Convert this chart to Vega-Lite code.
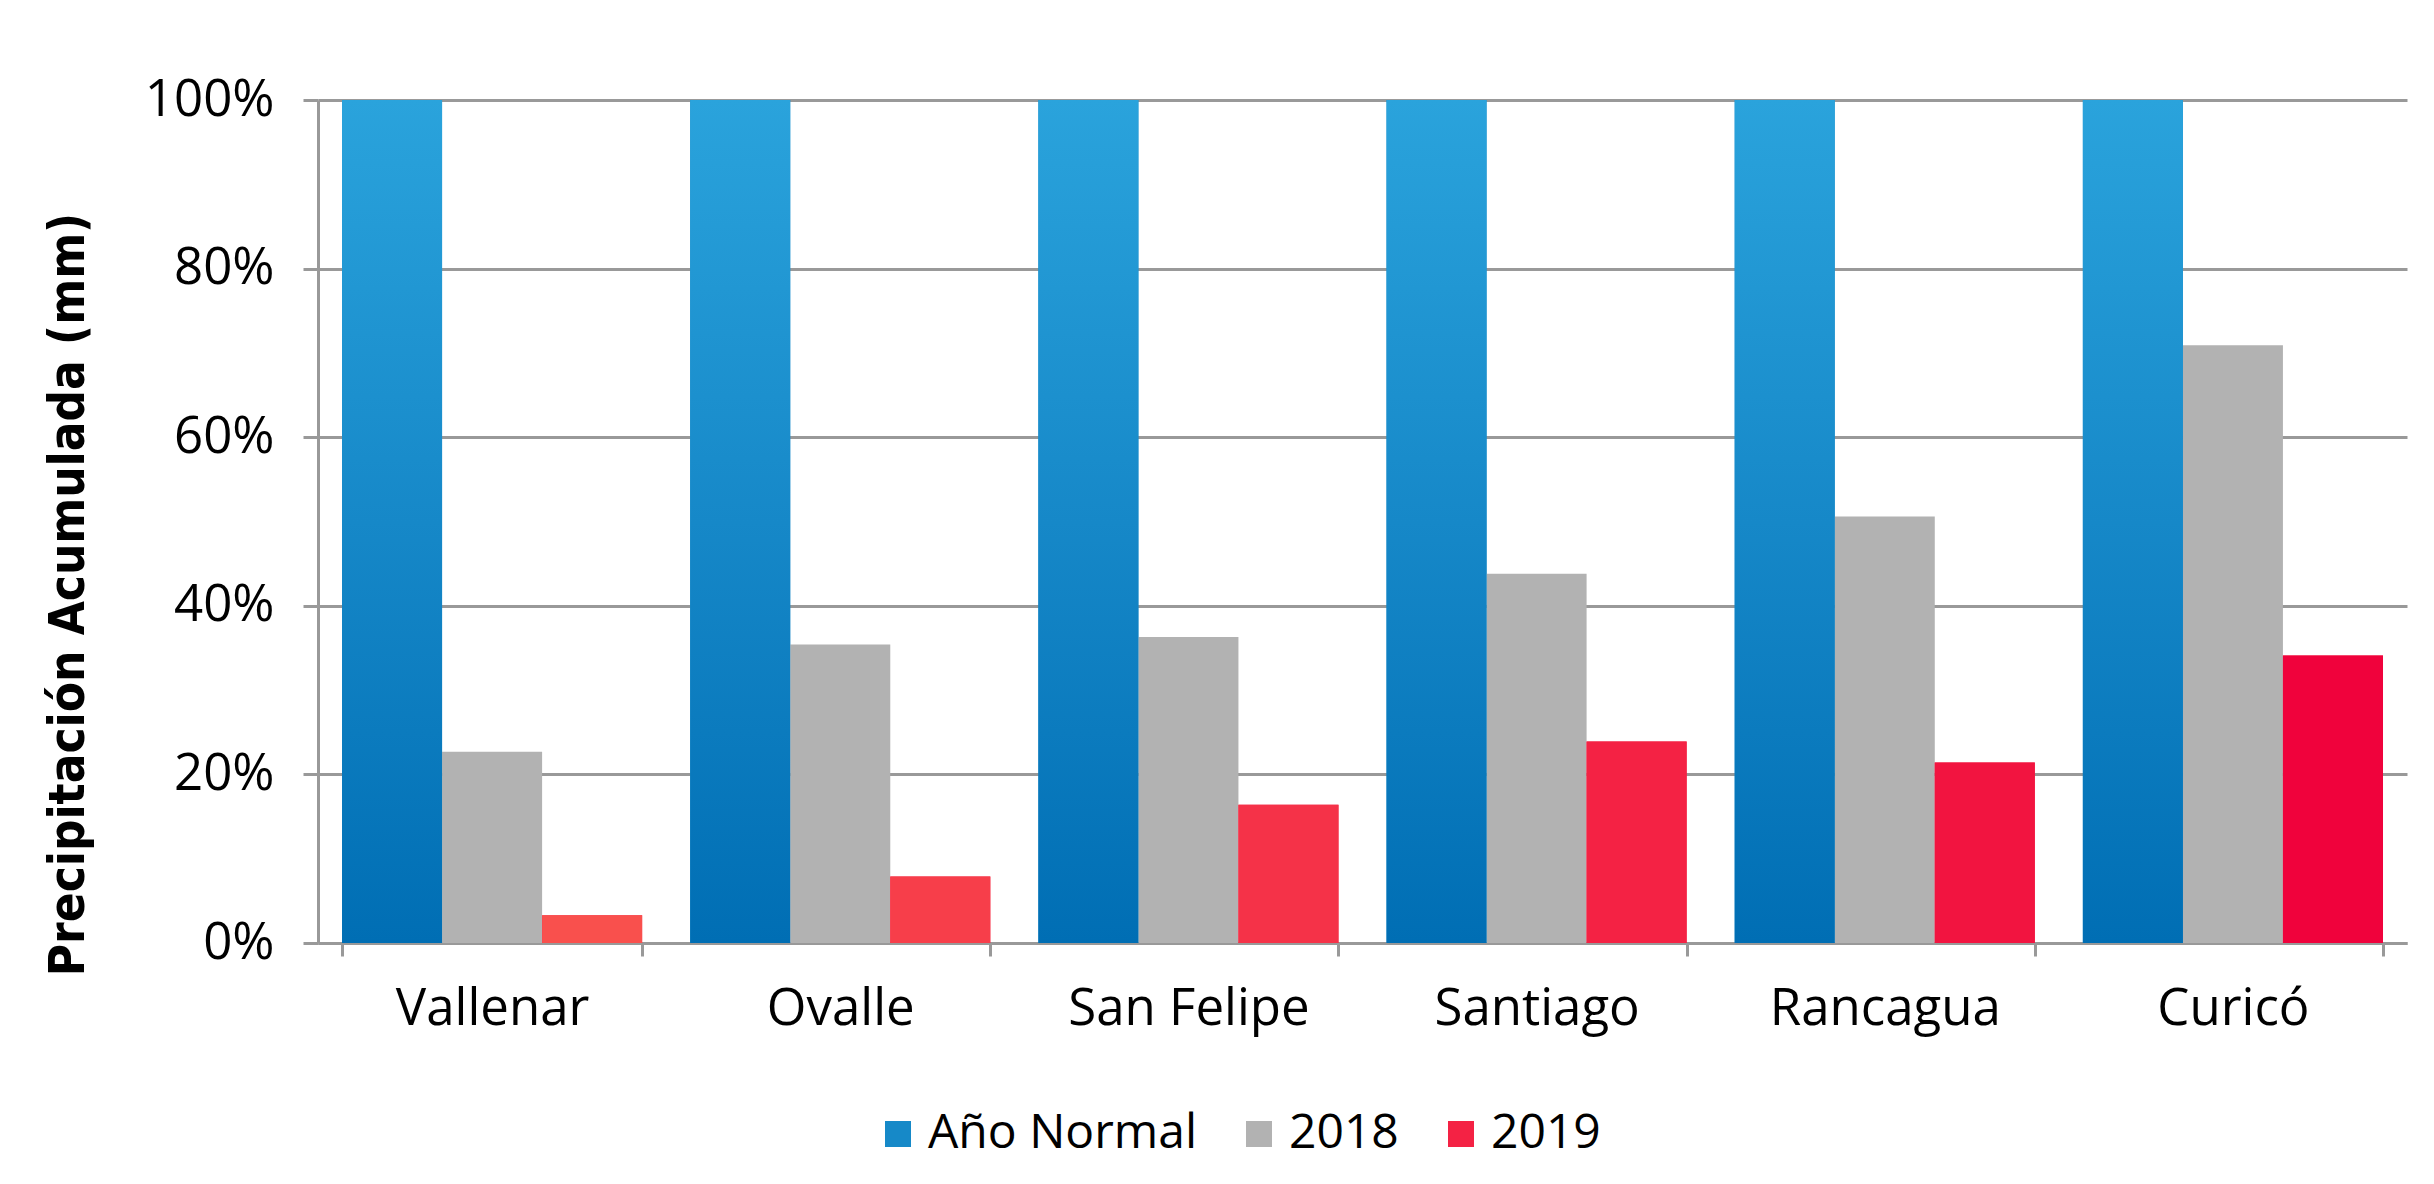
{
  "$schema": "https://vega.github.io/schema/vega-lite/v6.json",
  "width": 2089,
  "height": 843,
  "autosize": {"type": "none"},
  "padding": {"left": 318, "top": 100, "right": 27, "bottom": 241},
  "background": "white",
  "config": {
    "view": {"stroke": null},
    "font": "Open Sans",
    "axis": {"labelFont": "Open Sans", "labelColor": "#000000", "labelLimit": 500, "domainColor": "#999999", "domainWidth": 3, "tickColor": "#999999", "tickWidth": 3, "gridColor": "#999999", "gridWidth": 3}
  },
  "data": {
    "values": [
      {"ciudad": "Vallenar", "serie": "Año Normal", "valor": 100},
      {"ciudad": "Vallenar", "serie": "2018", "valor": 22.7},
      {"ciudad": "Vallenar", "serie": "2019", "valor": 3.3},
      {"ciudad": "Ovalle", "serie": "Año Normal", "valor": 100},
      {"ciudad": "Ovalle", "serie": "2018", "valor": 35.4},
      {"ciudad": "Ovalle", "serie": "2019", "valor": 7.9},
      {"ciudad": "San Felipe", "serie": "Año Normal", "valor": 100},
      {"ciudad": "San Felipe", "serie": "2018", "valor": 36.3},
      {"ciudad": "San Felipe", "serie": "2019", "valor": 16.4},
      {"ciudad": "Santiago", "serie": "Año Normal", "valor": 100},
      {"ciudad": "Santiago", "serie": "2018", "valor": 43.8},
      {"ciudad": "Santiago", "serie": "2019", "valor": 23.9},
      {"ciudad": "Rancagua", "serie": "Año Normal", "valor": 100},
      {"ciudad": "Rancagua", "serie": "2018", "valor": 50.6},
      {"ciudad": "Rancagua", "serie": "2019", "valor": 21.4},
      {"ciudad": "Curicó", "serie": "Año Normal", "valor": 100},
      {"ciudad": "Curicó", "serie": "2018", "valor": 70.9},
      {"ciudad": "Curicó", "serie": "2019", "valor": 34.1}
    ]
  },
  "encoding": {
    "x": {
      "field": "ciudad", "type": "nominal", "sort": null,
      "scale": {"paddingInner": 0.138, "paddingOuter": 0.069},
      "axis": {"title": null, "labelAngle": 0, "labelFontSize": 51, "labelPadding": 28, "tickSize": 13, "tickBand": "extent", "grid": false}
    },
    "xOffset": {
      "field": "serie", "type": "nominal",
      "scale": {"domain": ["Año Normal", "2018", "2019"], "paddingInner": 0, "paddingOuter": 0}
    },
    "y": {
      "field": "valor", "type": "quantitative",
      "scale": {"domain": [0, 100], "nice": false},
      "axis": {
        "values": [0, 20, 40, 60, 80, 100],
        "labelExpr": "datum.value + '%'",
        "labelFontSize": 51,
        "labelPadding": 29,
        "tickSize": 15,
        "grid": true,
        "title": "Precipitación Acumulada (mm)",
        "titleFont": "DejaVu Sans Condensed",
        "titleFontWeight": "bold",
        "titleFontSize": 49,
        "titleColor": "#000000",
        "titleAngle": -90,
        "titleAlign": "center",
        "titleBaseline": "middle",
        "titleX": -250,
        "titleY": 494
      }
    }
  },
  "layer": [
    {
      "mark": {"type": "bar", "strokeWidth": 0},
      "encoding": {
        "color": {
          "field": "serie", "type": "nominal",
          "scale": {"domain": ["Año Normal", "2018", "2019"], "range": ["#1689c8", "#b2b2b2", "#f42244"]},
          "legend": {
            "title": null,
            "orient": "none",
            "direction": "horizontal",
            "legendX": 556,
            "legendY": 1010,
            "symbolType": "square",
            "symbolSize": 676,
            "symbolStrokeWidth": 0,
            "symbolOpacity": 1,
            "labelFont": "Open Sans",
            "labelFontSize": 48,
            "labelColor": "#000000",
            "labelLimit": 500,
            "labelOffset": 6,
            "columnPadding": 38,
            "encode": {
              "symbols": {
                "update": {
                  "fill": [
                    {"test": "datum.value === 'Año Normal'", "value": {"gradient": "linear", "x1": 0, "y1": 0, "x2": 1, "y2": 0, "stops": [{"offset": 0, "color": "#0070b5"}, {"offset": 1, "color": "#2aa3dc"}]}},
                    {"test": "datum.value === '2019'", "value": {"gradient": "linear", "x1": 0, "y1": 0, "x2": 1, "y2": 0, "stops": [{"offset": 0, "color": "#f9504d"}, {"offset": 1, "color": "#f0023c"}]}},
                    {"value": "#b2b2b2"}
                  ]
                }
              }
            }
          }
        }
      }
    },
    {
      "transform": [{"filter": "datum.serie === 'Año Normal'"}],
      "mark": {
        "type": "bar",
        "strokeWidth": 0,
        "color": {"gradient": "linear", "x1": 0, "y1": 0, "x2": 0, "y2": 1, "stops": [{"offset": 0, "color": "#2aa3dc"}, {"offset": 0.5, "color": "#1688c8"}, {"offset": 1, "color": "#006eb4"}]}
      }
    },
    {
      "transform": [{"filter": "datum.serie === '2019'"}],
      "mark": {"type": "bar", "strokeWidth": 0},
      "encoding": {
        "fill": {
          "field": "ciudad", "type": "nominal", "sort": null,
          "scale": {"domain": ["Vallenar", "Ovalle", "San Felipe", "Santiago", "Rancagua", "Curicó"], "range": ["#f9504d", "#f73e4a", "#f53248", "#f42244", "#f21440", "#f0023c"]},
          "legend": null
        }
      }
    }
  ]
}
